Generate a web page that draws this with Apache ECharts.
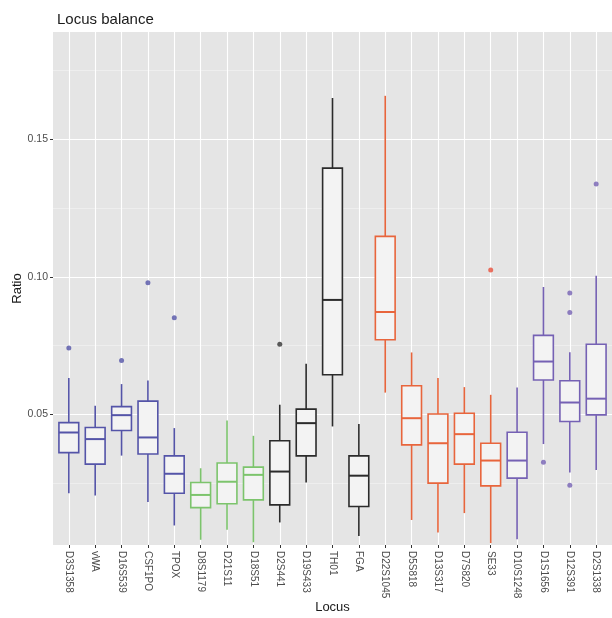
<!DOCTYPE html>
<html><head><meta charset="utf-8">
<script src="https://cdn.jsdelivr.net/npm/echarts@6/dist/echarts.min.js"></script>
<style>html,body{margin:0;padding:0;background:#fff}#c{width:612px;height:618px}</style>
</head><body><div id="c"></div>
<script>
const categories = ['D3S1358','vWA','D16S539','CSF1PO','TPOX','D8S1179','D21S11','D18S51','D2S441','D19S433','TH01','FGA','D22S1045','D5S818','D13S317','D7S820','SE33','D10S1248','D1S1656','D12S391','D2S1338'];
const groupOf = [0,0,0,0,0,1,1,1,2,2,2,2,3,3,3,3,3,4,4,4,4];
const lowerWhisker = [0.0213,0.0205,0.0350,0.0181,0.0096,0.0044,0.0080,0.0035,0.0107,0.0252,0.0456,0.0058,0.0579,0.0116,0.0070,0.0141,0.0032,0.0046,0.0392,0.0289,0.0298];
const q1 =           [0.0361,0.0319,0.0441,0.0356,0.0213,0.0161,0.0175,0.0189,0.0171,0.0349,0.0644,0.0165,0.0771,0.0389,0.0250,0.0319,0.0240,0.0268,0.0625,0.0474,0.0498];
const median =       [0.0434,0.0410,0.0497,0.0416,0.0284,0.0207,0.0255,0.0280,0.0292,0.0468,0.0916,0.0277,0.0872,0.0486,0.0395,0.0428,0.0332,0.0332,0.0692,0.0543,0.0557];
const q3 =           [0.0470,0.0452,0.0528,0.0548,0.0349,0.0252,0.0323,0.0308,0.0404,0.0519,0.1395,0.0349,0.1147,0.0604,0.0501,0.0504,0.0395,0.0435,0.0787,0.0622,0.0755];
const upperWhisker = [0.0632,0.0531,0.0610,0.0623,0.0450,0.0304,0.0478,0.0422,0.0535,0.0684,0.1650,0.0465,0.1658,0.0725,0.0632,0.0599,0.0571,0.0598,0.0963,0.0726,0.1004];
const outlierLocus = ['D3S1358','D16S539','CSF1PO','TPOX','D2S441','SE33','D1S1656','D12S391','D12S391','D12S391','D2S1338'];
const outlierValue = [0.0741,0.0696,0.0978,0.0851,0.0755,0.1025,0.0326,0.0941,0.0870,0.0242,0.1337];
const majorTicks = [0.05,0.10,0.15];
const minorTicks = [0.025,0.075,0.125,0.175];

const palette = ['#5454a8','#7cc46c','#2b2b2b','#e8653c','#7561b4'];
const outlierPalette = ['#5454a8','#7cc46c','#333333','#e8503c','#7561b4'];
const chart = echarts.init(document.getElementById('c'), null, {renderer:'canvas'});
const boxData = categories.map((_, i) => [i, lowerWhisker[i], q1[i], median[i], q3[i], upperWhisker[i]]);
const outData = outlierLocus.map((name, k) => {
  const idx = categories.indexOf(name);
  return {value:[idx, outlierValue[k]], itemStyle:{color: outlierPalette[groupOf[idx]]}};
});
const catIdx = categories.map((_, i) => i);
const font = 'Liberation Sans, Arial, sans-serif';
chart.setOption({
  animation:false,
  backgroundColor:'#ffffff',
  title:{text:'Locus balance', left:52, top:7, textStyle:{fontSize:15, fontWeight:'normal', color:'#1a1a1a', fontFamily:font}},
  grid:{left:53, right:0, top:32, bottom:73, show:true, backgroundColor:'#e5e5e5', borderWidth:0, containLabel:false, outerBoundsMode:'none'},
  xAxis:{type:'value', min:-0.6, max:20.6,
    axisLine:{show:false, onZero:false},
    axisTick:{customValues:catIdx, length:3, lineStyle:{color:'#333', width:1}},
    axisLabel:{customValues:catIdx, formatter:v => categories[Math.round(v)], rotate:-90, fontSize:10, color:'#4d4d4d', margin:6, fontFamily:font},
    splitLine:{show:true, lineStyle:{color:'#ffffff', width:1.1}},
    name:'Locus', nameLocation:'middle', nameGap:56, nameMoveOverlap:false, nameTextStyle:{fontSize:13, color:'#1a1a1a', fontFamily:font}
  },
  yAxis:[{type:'value', min:0.0025, max:0.189,
    axisLine:{show:false, onZero:false},
    axisTick:{customValues:majorTicks, length:3, lineStyle:{color:'#333', width:1}},
    axisLabel:{customValues:majorTicks, formatter:v => v.toFixed(2), fontSize:10.5, color:'#4d4d4d', margin:5, fontFamily:font},
    splitLine:{show:true, lineStyle:{color:'#ffffff', width:1.1}},
    name:'Ratio', nameLocation:'middle', nameGap:29, nameMoveOverlap:false, nameRotate:90, nameTextStyle:{fontSize:13, color:'#1a1a1a', fontFamily:font}
  },{type:'value', min:0.0025, max:0.189, position:'left',
    axisLine:{show:false, onZero:false},
    axisTick:{show:false, customValues:minorTicks},
    axisLabel:{show:false, customValues:minorTicks},
    splitLine:{show:true, lineStyle:{color:'#f4f4f4', width:0.6}}
  }],
  series:[{
    type:'custom', yAxisIndex:0, clip:false,
    encode:{x:0, y:[1,2,3,4,5]},
    data:boxData,
    renderItem:function(params, api){
      const x = api.value(0);
      const c = palette[groupOf[x]];
      const pLo = api.coord([x, api.value(1)]);
      const pQ1 = api.coord([x, api.value(2)]);
      const pMd = api.coord([x, api.value(3)]);
      const pQ3 = api.coord([x, api.value(4)]);
      const pHi = api.coord([x, api.value(5)]);
      const w = api.size([1, 0])[0] * 0.75;
      const lw = 1.6;
      return {type:'group', children:[
        {type:'line', shape:{x1:pLo[0], y1:pLo[1], x2:pQ1[0], y2:pQ1[1]}, style:{stroke:c, lineWidth:lw}},
        {type:'line', shape:{x1:pQ3[0], y1:pQ3[1], x2:pHi[0], y2:pHi[1]}, style:{stroke:c, lineWidth:lw}},
        {type:'rect', shape:{x:pQ1[0]-w/2, y:pQ3[1], width:w, height:pQ1[1]-pQ3[1]}, style:{fill:'#f3f3f3', stroke:c, lineWidth:lw}},
        {type:'line', shape:{x1:pMd[0]-w/2, y1:pMd[1], x2:pMd[0]+w/2, y2:pMd[1]}, style:{stroke:c, lineWidth:2}}
      ]};
    }
  },{
    type:'scatter', yAxisIndex:0, symbolSize:5, data:outData
  }]
});
</script></body></html>
